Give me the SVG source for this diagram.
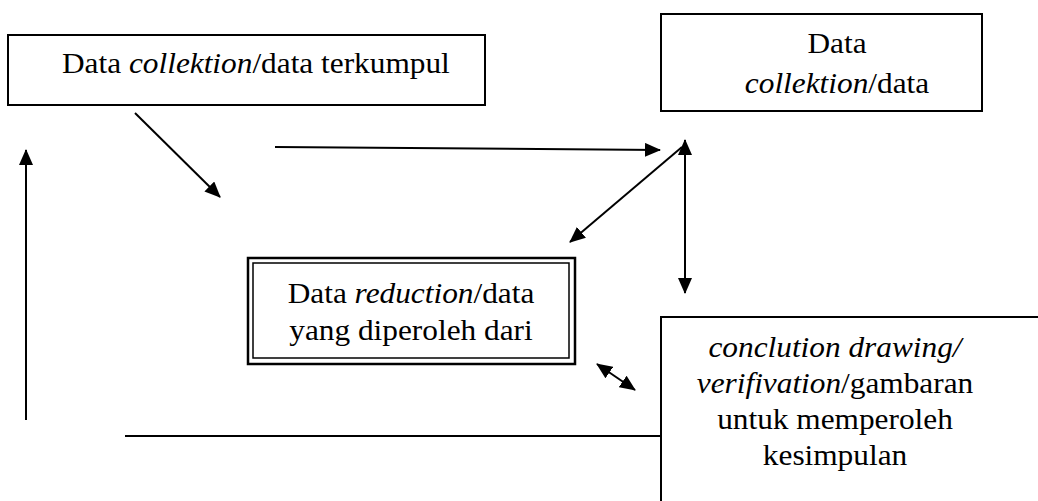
<svg xmlns="http://www.w3.org/2000/svg" width="1038" height="501" viewBox="0 0 1038 501">
<style>
.box{fill:#fff;stroke:#000;stroke-width:2}
.t{font-family:"Liberation Serif","Times New Roman",serif;font-size:29px;fill:#000}
.c{text-anchor:middle}
.i{font-style:italic}
.ln{stroke:#000;stroke-width:2;fill:none}
</style>
<defs>
<marker id="ah" viewBox="0 0 16 14" refX="15" refY="7" markerWidth="16" markerHeight="14" markerUnits="userSpaceOnUse" orient="auto-start-reverse">
<path d="M0,0 L16,7 L0,14 z" fill="#000"/>
</marker>
<clipPath id="clip3"><rect x="250" y="260" width="322" height="89"/></clipPath>
</defs>
<rect width="1038" height="501" fill="#fff"/>
<g id="connectors">
<line class="ln" x1="135" y1="113" x2="220" y2="197" marker-end="url(#ah)"/>
<line class="ln" x1="275" y1="147" x2="660" y2="150" marker-end="url(#ah)"/>
<line class="ln" x1="682" y1="147" x2="570" y2="242" marker-end="url(#ah)"/>
<line class="ln" x1="685" y1="140" x2="685" y2="293" marker-start="url(#ah)" marker-end="url(#ah)"/>
<line class="ln" x1="597" y1="364" x2="635" y2="390" marker-start="url(#ah)" marker-end="url(#ah)"/>
<line class="ln" x1="125" y1="436" x2="662" y2="436"/>
<line class="ln" x1="26" y1="420" x2="26" y2="150" marker-end="url(#ah)"/>
</g>
<g id="node-collection1">
<rect class="box" x="8" y="35" width="477" height="70"/>
<g transform="translate(62,0) scale(1.08,1)"><text class="t" x="0" y="73">Data <tspan class="i">collektion</tspan>/data terkumpul</text></g>
</g>
<g id="node-collection2">
<rect class="box" x="661" y="14" width="321" height="97"/>
<g transform="translate(837,0) scale(1.08,1)">
<text class="t c" x="0" y="53">Data</text>
<text class="t c" x="0" y="93"><tspan class="i">collektion</tspan>/data</text>
</g>
</g>
<g id="node-reduction">
<rect x="248" y="258" width="327" height="106" fill="#fff" stroke="#000" stroke-width="2.5"/>
<rect x="253" y="263" width="316" height="95" fill="none" stroke="#000" stroke-width="1.5"/>
<g clip-path="url(#clip3)">
<g transform="translate(411,0) scale(1.08,1)">
<text class="t c" x="0" y="303">Data <tspan class="i">reduction</tspan>/data</text>
<text class="t c" x="0" y="340">yang diperoleh dari</text>
</g>
</g>
</g>
<g id="node-conclusion">
<rect class="box" x="661" y="317" width="390" height="200"/>
<g transform="translate(835,0) scale(1.08,1)">
<text class="t c i" x="0" y="357">conclution drawing/</text>
<text class="t c" x="0" y="393"><tspan class="i">verifivation</tspan>/gambaran</text>
<text class="t c" x="0" y="429">untuk memperoleh</text>
<text class="t c" x="0" y="465">kesimpulan</text>
</g>
</g>
</svg>
